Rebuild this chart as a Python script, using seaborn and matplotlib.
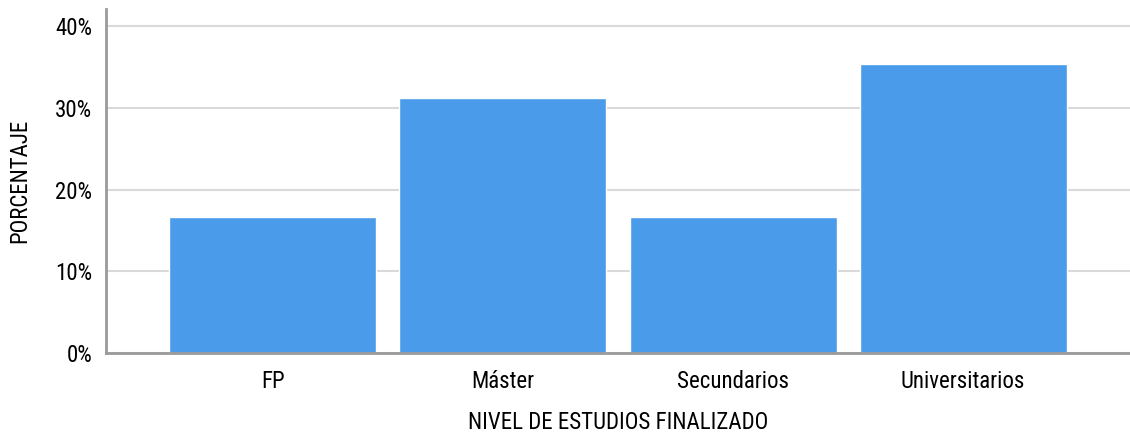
import matplotlib
matplotlib.use("Agg")
import matplotlib.pyplot as plt
import seaborn as sns
import pandas as pd
from matplotlib.ticker import FuncFormatter

categories = ["FP", "Máster", "Secundarios", "Universitarios"]
percentages = [16.67, 31.25, 16.67, 35.42]
y_ticks = [0, 10, 20, 30, 40]

df = pd.DataFrame({"nivel": categories, "pct": percentages})

sns.set_theme(style="white")
plt.rcParams["font.family"] = ["Roboto Condensed", "DejaVu Sans"]

fig = plt.figure(figsize=(11.3, 4.32), dpi=100)
ax = fig.add_axes([106 / 1130, 1 - 353 / 432, (1130 - 106) / 1130, (353 - 9) / 432])

sns.barplot(data=df, x="nivel", y="pct", color="#4A9CEB", saturation=1,
            width=0.9, ax=ax, zorder=3)

ax.set_ylim(0, 42.1)
ax.set_xlim(-0.725, 3.725)
ax.set_yticks(y_ticks)
ax.yaxis.set_major_formatter(FuncFormatter(lambda v, p: f"{int(v)}%"))
ax.grid(axis="y", color="#d9d9d9", linewidth=1.5, zorder=0)
ax.set_axisbelow(True)

for side in ["top", "right"]:
    ax.spines[side].set_visible(False)
for side in ["left", "bottom"]:
    ax.spines[side].set_color("#9a9a9a")
    ax.spines[side].set_linewidth(2)
    ax.spines[side].set_zorder(4)

ax.tick_params(axis="both", length=0, labelsize=16.5, colors="#000000")
ax.tick_params(axis="y", pad=10)
ax.tick_params(axis="x", pad=12)
ax.set_xlabel("NIVEL DE ESTUDIOS FINALIZADO", fontsize=16.5, color="#000000",
              labelpad=13)
ax.set_ylabel("PORCENTAJE", fontsize=16.5, color="#000000", labelpad=17)

fig.savefig("out.png", dpi=100)
